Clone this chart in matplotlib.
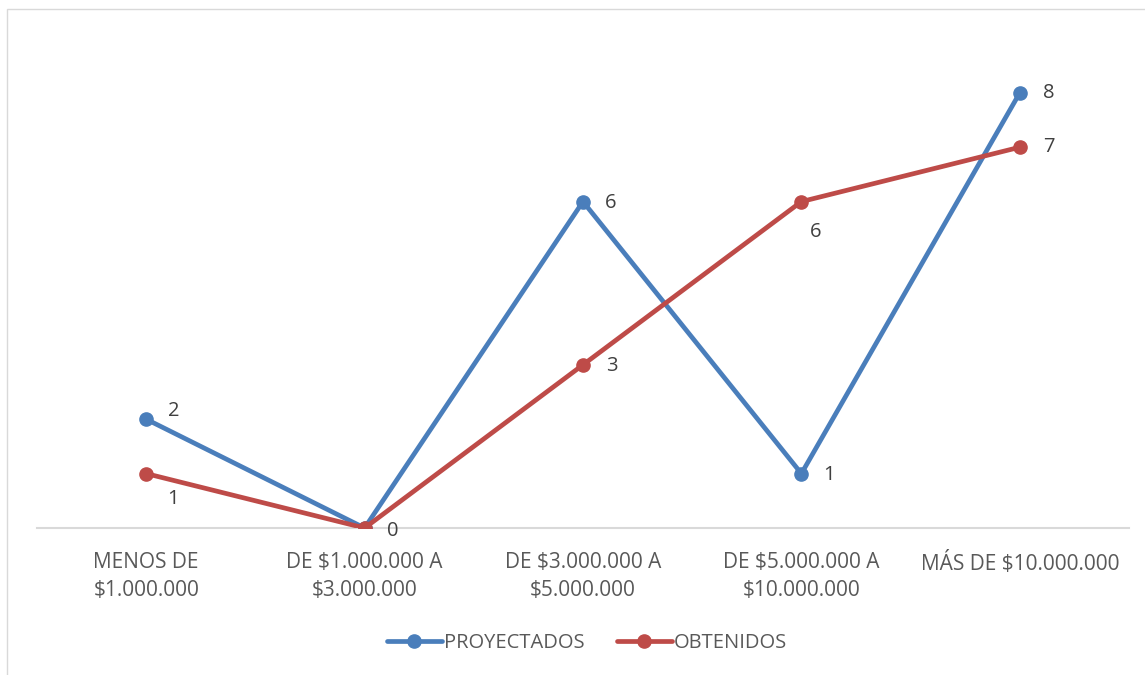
import matplotlib
matplotlib.use("Agg")
import matplotlib.pyplot as plt
from matplotlib.patches import Rectangle

categories = ["MENOS DE\n$1.000.000", "DE $1.000.000 A\n$3.000.000", "DE $3.000.000 A\n$5.000.000",
              "DE $5.000.000 A\n$10.000.000", "MÁS DE $10.000.000"]
proyectados = [2, 0, 6, 1, 8]
obtenidos = [1, 0, 3, 6, 7]

# label offsets in points (dx, dy)
proy_offsets = [(20, 6), (20, -2), (20, -1), (20, -1), (21, 0)]
obt_offsets = [(19, -18), (0, 0), (21, -1), (10, -22), (21, 0)]

blue = "#4A7EBB"
red = "#BE4B48"
txt = "#404040"
font = "Open Sans"
fs = 14.5

W, H = 1145, 675
fig = plt.figure(figsize=(W / 100, H / 100), dpi=100)
fig.patches.append(Rectangle((7 / W, -0.1), 1.2, 1 - 9 / H + 0.1, transform=fig.transFigure,
                             fill=False, edgecolor="#D9D9D9", linewidth=1.0))

ax = fig.add_axes([37 / W, 1 - 528 / H, (1129 - 37) / W, (528 - 38.4) / H])
x = list(range(len(categories)))
l1, = ax.plot(x, proyectados, color=blue, lw=3.4, marker="o", ms=9.5, label="PROYECTADOS",
              solid_capstyle="round", zorder=3)
l2, = ax.plot(x, obtenidos, color=red, lw=3.4, marker="o", ms=9.5, label="OBTENIDOS",
              solid_capstyle="round", zorder=4)

for i, v in enumerate(proyectados):
    dx, dy = proy_offsets[i]
    ax.annotate(str(v), (i, v), xytext=(dx, dy), textcoords="offset points", ha="center",
                va="center", fontsize=fs, color=txt, family=font)
for i, v in enumerate(obtenidos):
    if i == 1:
        continue
    dx, dy = obt_offsets[i]
    ax.annotate(str(v), (i, v), xytext=(dx, dy), textcoords="offset points", ha="center",
                va="center", fontsize=fs, color=txt, family=font)

ax.set_xlim(-0.5, len(categories) - 0.5)
ax.set_ylim(0, 9)
ax.set_yticks([])
ax.set_xticks(x)
ax.set_xticklabels(categories, fontsize=15, color="#595959", family=font, linespacing=1.45)
ax.tick_params(axis="x", length=0, pad=17)
for s in ["top", "right", "left"]:
    ax.spines[s].set_visible(False)
ax.spines["bottom"].set_color("#D9D9D9")
ax.spines["bottom"].set_linewidth(1.5)
ax.spines["bottom"].set_zorder(1)
for lab in ax.get_xticklabels():
    lab.set_verticalalignment("top")

leg = fig.legend(handles=[l1, l2], loc="center", bbox_to_anchor=(587 / W, 1 - 643 / H), ncol=2,
                 frameon=False, handlelength=2.75, handletextpad=0.1, columnspacing=1.6,
                 prop={"family": font, "size": fs})
for t in leg.get_texts():
    t.set_color("#595959")

fig.savefig("out.png", dpi=100)
